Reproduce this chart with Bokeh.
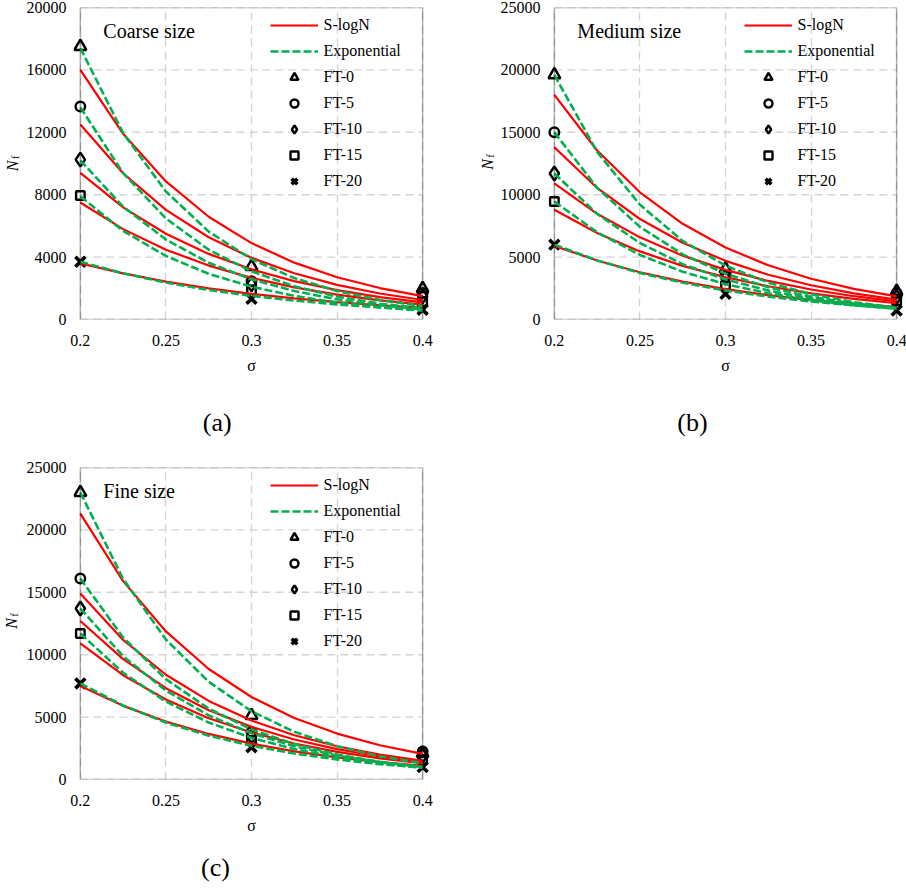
import math
from bokeh.plotting import figure
from bokeh.models import Range1d, FixedTicker, BoxAnnotation, Label, Legend, LegendItem
from bokeh.layouts import column, row
from bokeh.embed import file_html
from bokeh.resources import INLINE

# ---------------- data ----------------
SIGMA = [0.2, 0.225, 0.25, 0.275, 0.3, 0.325, 0.35, 0.375, 0.4]
SIGMA_TEST = [0.2, 0.3, 0.4]
X_TICKS = [0.2, 0.25, 0.3, 0.35, 0.4]
X_TICK_LABELS = ["0.2", "0.25", "0.3", "0.35", "0.4"]
FT_LABELS = ["FT-0", "FT-5", "FT-10", "FT-15", "FT-20"]

COARSE_Y_TICKS = [0, 4000, 8000, 12000, 16000, 20000]
COARSE_Y_LABELS = ["0", "4000", "8000", "12000", "16000", "20000"]
MEDIUM_Y_TICKS = [0, 5000, 10000, 15000, 20000, 25000]
MEDIUM_Y_LABELS = ["0", "5000", "10000", "15000", "20000", "25000"]
FINE_Y_TICKS = [0, 5000, 10000, 15000, 20000, 25000]
FINE_Y_LABELS = ["0", "5000", "10000", "15000", "20000", "25000"]

# Coarse size: fitted curves (FT-0 ... FT-20) and tests
COARSE_SLOGN = [
    [16000, 11902, 8853, 6586, 4899, 3644, 2711, 2016, 1500],
    [12500, 9374, 7029, 5271, 3953, 2964, 2223, 1667, 1250],
    [9400, 7189, 5498, 4205, 3216, 2459, 1881, 1438, 1100],
    [7500, 5793, 4474, 3456, 2669, 2062, 1592, 1230, 950],
    [3600, 2959, 2432, 1999, 1643, 1351, 1110, 912, 750],
]
COARSE_EXP = [
    [17400, 11948, 8204, 5634, 3868, 2656, 1824, 1252, 860],
    [13600, 9386, 6478, 4471, 3085, 2129, 1470, 1014, 700],
    [10200, 7230, 5125, 3633, 2575, 1825, 1294, 917, 650],
    [7900, 5675, 4076, 2928, 2103, 1511, 1085, 780, 560],
    [3700, 2960, 2367, 1894, 1515, 1211, 969, 775, 620],
]
COARSE_TEST = [
    [17500, 3400, 1980],
    [13650, 2450, 1700],
    [10250, 2250, 1480],
    [7950, 1900, 1160],
    [3700, 1330, 630],
]

# Medium size
MEDIUM_SLOGN = [
    [18000, 13544, 10192, 7669, 5771, 4342, 3267, 2459, 1850],
    [13800, 10542, 8053, 6151, 4699, 3590, 2742, 2095, 1600],
    [10900, 8471, 6583, 5116, 3976, 3089, 2401, 1866, 1450],
    [8800, 6929, 5456, 4296, 3382, 2663, 2097, 1651, 1300],
    [5900, 4726, 3786, 3032, 2429, 1946, 1559, 1248, 1000],
]
MEDIUM_EXP = [
    [19600, 13426, 9197, 6300, 4315, 2956, 2025, 1387, 950],
    [15000, 10553, 7424, 5223, 3674, 2585, 1818, 1279, 900],
    [11700, 8467, 6127, 4434, 3209, 2322, 1680, 1216, 880],
    [9450, 6993, 5175, 3830, 2834, 2097, 1552, 1149, 850],
    [6000, 4733, 3734, 2946, 2324, 1833, 1446, 1141, 900],
]
MEDIUM_TEST = [
    [19600, 4060, 2250],
    [15000, 3530, 2100],
    [11700, 3340, 1800],
    [9450, 2730, 1500],
    [6000, 2060, 720],
]

# Fine size
FINE_SLOGN = [
    [21300, 15897, 11864, 8854, 6608, 4932, 3680, 2747, 2050],
    [14900, 11183, 8393, 6299, 4728, 3548, 2663, 1999, 1500],
    [12700, 9640, 7318, 5555, 4217, 3201, 2430, 1844, 1400],
    [10900, 8356, 6405, 4910, 3764, 2886, 2212, 1696, 1300],
    [7500, 5900, 4641, 3651, 2872, 2260, 1778, 1398, 1100],
]
FINE_EXP = [
    [23000, 16060, 11215, 7831, 5468, 3818, 2666, 1862, 1300],
    [16100, 11376, 8038, 5679, 4013, 2835, 2003, 1415, 1000],
    [13700, 9877, 7121, 5134, 3701, 2668, 1924, 1387, 1000],
    [11700, 8548, 6246, 4563, 3334, 2436, 1780, 1300, 950],
    [7700, 5928, 4564, 3513, 2705, 2082, 1603, 1234, 950],
]
FINE_TEST = [
    [23000, 5130, 2100],
    [16100, 3800, 2250],
    [13700, 3470, 1900],
    [11700, 3130, 1600],
    [7700, 2590, 990],
]

# ---------------- styles ----------------
FONT = "Liberation Serif"
RED = "#FF0000"
GREEN = "#00B050"
GRID = "#D4D4D4"
X_PAD = 0.004
FRAME_W = 356
FRAME_H = 312
MARKER_STYLES = [
    dict(marker="triangle", size=12, line_width=2.5),
    dict(marker="circle", size=9.5, line_width=2.4),
    dict(marker="diamond", size=14, line_width=2.4),
    dict(marker="square", size=8.5, line_width=2.4),
    dict(marker="x", size=14, line_width=3.6),
]


def bare_fig(fw, fh, x_range, y_range, top=0, bottom=0):
    f = figure(frame_width=fw, frame_height=fh, x_range=x_range, y_range=y_range,
               x_axis_type=None, y_axis_type=None, output_backend="svg",
               toolbar_location=None, min_border_left=0, min_border_right=0,
               min_border_top=top, min_border_bottom=bottom)
    f.outline_line_color = None
    f.background_fill_color = "white"
    f.border_fill_color = "white"
    return f


def ylabel_fig(width, y_lo, y_hi, top, bottom, cx, dy):
    f = bare_fig(width, FRAME_H, Range1d(0, width), Range1d(y_lo, y_hi), top, bottom)
    ymid = (y_lo + y_hi) / 2
    f.add_layout(Label(x=cx, y=ymid, y_offset=dy, text="N", angle=math.pi / 2,
                       text_font=FONT, text_font_size="16px", text_font_style="italic",
                       text_color="black", text_align="center", text_baseline="middle"))
    f.add_layout(Label(x=cx, y=ymid, x_offset=2.5, y_offset=dy + 8.5, text="f",
                       angle=math.pi / 2, text_font=FONT, text_font_size="11px",
                       text_color="black", text_align="center", text_baseline="middle"))
    return f


def tag_fig(width, height, tag, cx, cy):
    f = bare_fig(width, height, Range1d(0, width), Range1d(0, height))
    f.add_layout(Label(x=cx, y=cy, text=tag, text_font=FONT, text_font_size="26px",
                       text_color="black", text_align="center", text_baseline="middle"))
    return f


def make_panel(name, y_ticks, y_labels, slogn, expo, test, left, right, top, bottom):
    x_lo, x_hi = X_TICKS[0], X_TICKS[-1]
    y_lo, y_hi = y_ticks[0], y_ticks[-1]
    p = figure(frame_width=FRAME_W, frame_height=FRAME_H,
               x_range=Range1d(x_lo - X_PAD, x_hi + X_PAD),
               y_range=Range1d(y_lo, y_hi),
               output_backend="svg", toolbar_location=None,
               min_border_left=left, min_border_right=right,
               min_border_top=top, min_border_bottom=bottom)
    p.outline_line_color = None
    p.background_fill_color = "white"
    p.border_fill_color = "white"

    # axes
    xax = p.xaxis[0]
    yax = p.yaxis[0]
    xax.ticker = FixedTicker(ticks=X_TICKS)
    xax.major_label_overrides = {t: l for t, l in zip(X_TICKS, X_TICK_LABELS)}
    yax.ticker = FixedTicker(ticks=y_ticks)
    yax.major_label_overrides = {t: l for t, l in zip(y_ticks, y_labels)}
    for ax in (xax, yax):
        ax.update(axis_line_color=None, major_tick_line_color=None,
                  minor_tick_line_color=None, major_tick_out=0, major_tick_in=0,
                  major_label_text_font=FONT, major_label_text_font_style="normal",
                  major_label_text_font_size="16px", major_label_text_color="black")
    yax.major_label_standoff = 7
    xax.major_label_standoff = 15
    xax.axis_label = "σ"
    xax.axis_label_text_font = FONT
    xax.axis_label_text_font_style = "normal"
    xax.axis_label_text_font_size = "16px"
    xax.axis_label_text_color = "black"
    xax.axis_label_standoff = 8

    # grid
    p.xgrid.ticker = FixedTicker(ticks=X_TICKS)
    p.xgrid.grid_line_color = GRID
    p.xgrid.grid_line_dash = "8 5"
    p.xgrid.grid_line_width = 1.4
    p.ygrid.visible = False
    p.segment(x0=x_lo, x1=x_hi, y0=y_ticks, y1=y_ticks, line_color=GRID,
              line_width=1.4, line_dash="8 5", level="underlay")

    # test points
    marker_renderers = []
    for vals, st in zip(test, MARKER_STYLES):
        r = p.scatter(SIGMA_TEST, vals, marker=st["marker"], size=st["size"],
                      line_color="black", fill_color=None, line_width=st["line_width"])
        marker_renderers.append(r)

    # fitted curves
    red_r = None
    for vals in slogn:
        r = p.line(SIGMA, vals, line_color=RED, line_width=2.2)
        red_r = red_r or r
    green_r = None
    for vals in expo:
        r = p.line(SIGMA, vals, line_color=GREEN, line_width=2.6, line_dash="8 3")
        green_r = green_r or r

    # frame box
    p.add_layout(BoxAnnotation(left=x_lo, right=x_hi, bottom=y_lo, top=y_hi,
                               fill_alpha=0, line_color="black", line_width=1.5))

    # legend
    items = [LegendItem(label="S-logN", renderers=[red_r]),
             LegendItem(label="Exponential", renderers=[green_r])]
    for lab, r in zip(FT_LABELS, marker_renderers):
        items.append(LegendItem(label=lab, renderers=[r]))
    legend = Legend(items=items, location=(196.5, FRAME_H - 7.5 - 176))
    legend.label_text_font = FONT
    legend.label_text_font_size = "16px"
    legend.label_text_color = "black"
    legend.glyph_width = 48
    legend.glyph_height = 20
    legend.label_height = 20
    legend.spacing = 6
    legend.padding = 0
    legend.margin = 0
    legend.label_standoff = 6
    legend.background_fill_alpha = 0
    legend.border_line_alpha = 0
    p.add_layout(legend)

    # panel name
    p.add_layout(Label(x=x_lo, y=y_hi, x_offset=23, y_offset=-23.5, text=name,
                       text_font=FONT, text_font_size="20px", text_color="black",
                       text_baseline="alphabetic", text_align="left"))
    return p


# panel (a)
fa = make_panel("Coarse size", COARSE_Y_TICKS, COARSE_Y_LABELS,
                COARSE_SLOGN, COARSE_EXP, COARSE_TEST, left=47, right=40, top=7, bottom=56)
ya = ylabel_fig(23, COARSE_Y_TICKS[0], COARSE_Y_TICKS[-1], 7, 56, 11.5, -2.5)
ta = tag_fig(466, 71, "(a)", 216.7, 25)
block_a = column(row(ya, fa), ta)

# panel (b)
fb = make_panel("Medium size", MEDIUM_Y_TICKS, MEDIUM_Y_LABELS,
                MEDIUM_SLOGN, MEDIUM_EXP, MEDIUM_TEST, left=47, right=9, top=7, bottom=56)
yb = ylabel_fig(28, MEDIUM_Y_TICKS[0], MEDIUM_Y_TICKS[-1], 7, 56, 18, -1)
tb = tag_fig(440, 71, "(b)", 223, 25)
block_b = column(row(yb, fb), tb)

# panel (c)
fc = make_panel("Fine size", FINE_Y_TICKS, FINE_Y_LABELS,
                FINE_SLOGN, FINE_EXP, FINE_TEST, left=47, right=40, top=20, bottom=56)
yc = ylabel_fig(23, FINE_Y_TICKS[0], FINE_Y_TICKS[-1], 20, 56, 10.5, 0)
tc = tag_fig(466, 55, "(c)", 215, 24)
block_c = column(row(yc, fc), tc)

layout = column(row(block_a, block_b), block_c)
open("out.html", "w").write(file_html(layout, INLINE, "S-N curves"))
